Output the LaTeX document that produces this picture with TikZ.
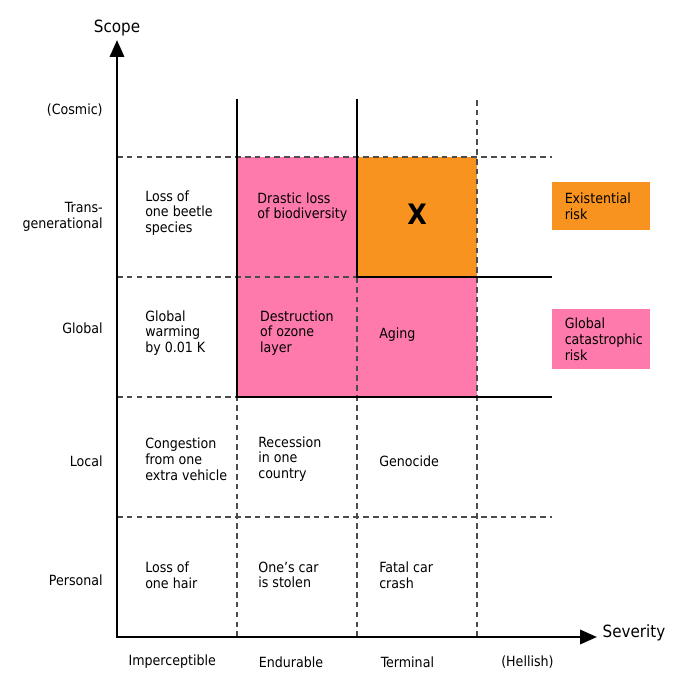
\documentclass[tikz,border=0pt]{standalone}
\usepackage{fontspec}
\setmainfont{DejaVu Sans Condensed}
\usepackage{tikz}
\usetikzlibrary{arrows.meta}
\definecolor{riskpink}{RGB}{255,122,172}
\definecolor{riskorange}{RGB}{247,147,30}
\tikzstyle{axis} = [draw,line width=2pt,{Triangle[length=12pt,width=10pt]}-{Triangle[length=12pt,width=10pt]}]
\tikzstyle{border} = [draw,line width=1.4pt]
\tikzstyle{grid} = [draw,line width=0.9pt,dash pattern=on 4pt off 3pt,black!70]
\tikzstyle{cell} = [anchor=west,align=left,inner sep=0pt,font=\fontsize{10}{11.2}\selectfont]
\tikzstyle{scopelabel} = [anchor=east,align=right,inner sep=0pt,font=\fontsize{10}{11.2}\selectfont]
\tikzstyle{sevlabel} = [inner sep=0pt,font=\fontsize{10}{11.2}\selectfont]
\tikzstyle{axislabel} = [inner sep=0pt,font=\fontsize{12}{14}\selectfont]
\tikzstyle{legend} = [anchor=north west,align=left,text width=52pt,inner xsep=8.5pt,inner ysep=0pt,minimum width=2.45cm,font=\fontsize{10}{11.2}\selectfont]

\begin{document}
\begin{tikzpicture}[scale=3]
    \useasboundingbox (-0.975,-0.45) rectangle (4.742,5.308);
    % Coloured risk areas
    \fill[riskpink] (1,2) rectangle (3,4);
    \fill[riskorange] (2,3) rectangle (3,4);
    % Dashed grid of the cells
    \foreach \y/\xend in {1/3.625, 2/1, 3/2, 4/3.625}
        \path[grid] (0,\y) -- (\xend,\y);
    \foreach \x/\yend in {1/2, 2/3, 3/4.48}
        \path[grid] (\x,0) -- (\x,\yend);
    % Borders of the risk areas
    \path[border] (1,4.48) -- (1,2) -- (3.625,2);
    \path[border] (2,4.48) -- (2,3) -- (3.625,3);
    % The two axes
    \coordinate (origin) at (0,0);
    \coordinate (ytip) at (0,4.975);
    \coordinate (xtip) at (4.0,0);
    \path[axis] (ytip) -- (origin) -- (xtip);
    \node[axislabel,anchor=south,outer sep=3pt] (scope) at (ytip) {Scope};
    \node[axislabel,anchor=west,outer sep=4pt] (severity) at ([yshift=1pt]xtip) {Severity};
    % Scope labels
    \foreach \y/\name/\txt in {4.39/cosmic/(Cosmic), 3.5/trans/Trans-\\generational, 2.575/global/Global, 1.467/local/Local, 0.475/personal/Personal}
        \node[scopelabel] (\name) at (-0.117,\y) {\txt};
    % Severity labels
    \foreach \x/\name/\txt in {0.46/imperceptible/Imperceptible, 1.45/endurable/Endurable, 2.42/terminal/Terminal, 3.42/hellish/(Hellish)}
        \node[sevlabel] (\name) at (\x,-0.208) {\txt};
    % Examples in the cells
    \foreach \pos/\name/\txt in {{(0.233,3.533)/beetle/Loss of\\one beetle\\species},
        {(1.167,3.583)/biodiversity/Drastic loss\\of biodiversity},
        {(0.233,2.533)/warming/Global\\warming\\by 0.01 K},
        {(1.19,2.533)/ozone/Destruction\\of ozone\\layer},
        {(2.183,2.52)/aging/Aging},
        {(0.233,1.483)/congestion/Congestion\\from one\\extra vehicle},
        {(1.175,1.483)/recession/Recession\\in one\\country},
        {(2.183,1.467)/genocide/Genocide},
        {(0.233,0.517)/hair/Loss of\\one hair},
        {(1.175,0.517)/car/One's car\\is stolen},
        {(2.183,0.517)/crash/Fatal car\\crash}}
        \node[cell] (\name) at \pos {\txt};
    \node[inner sep=0pt,font=\fontsize{20}{20}\selectfont\bfseries] (x) at (2.5,3.525) {X};
    % Legend
    \node[legend,fill=riskorange,minimum height=1.2cm] (existential) at (3.625,3.792) {Existential\\risk};
    \node[legend,fill=riskpink,minimum height=1.5cm] (catastrophic) at (3.625,2.733) {Global\\catastrophic\\risk};
\end{tikzpicture}
\end{document}
